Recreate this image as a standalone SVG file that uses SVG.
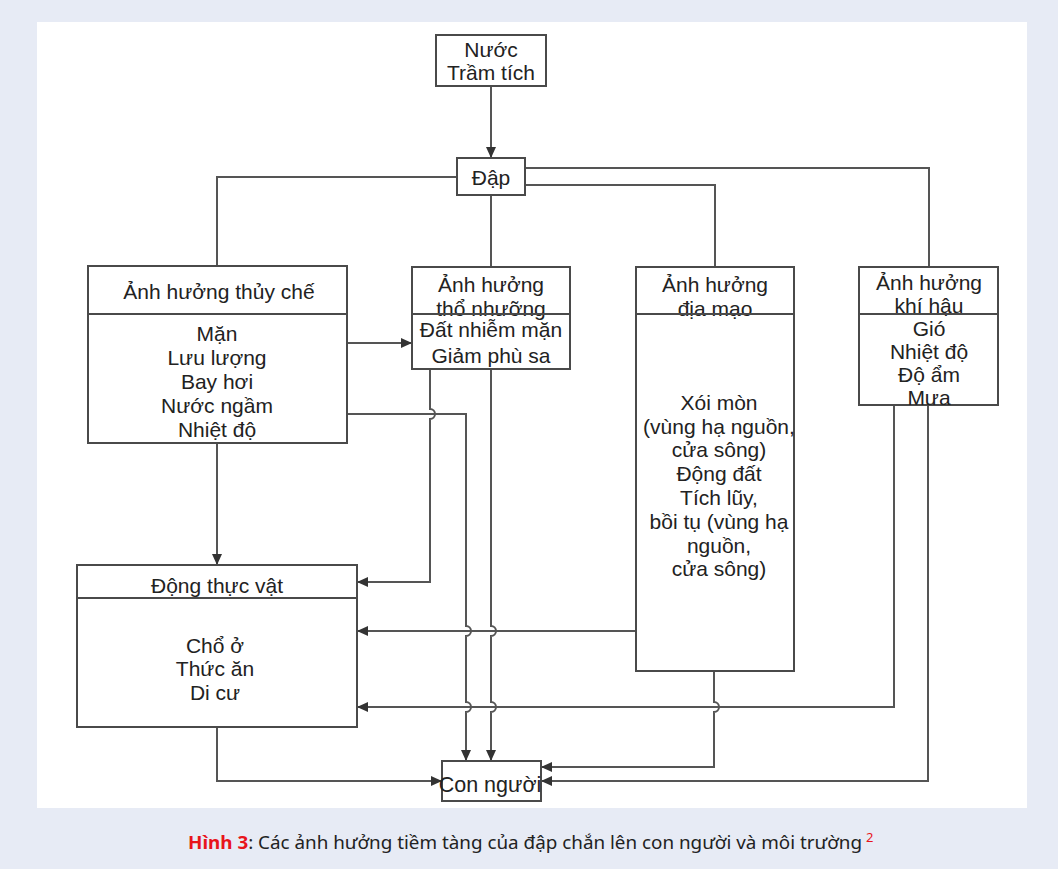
<svg xmlns="http://www.w3.org/2000/svg" width="1058" height="869" viewBox="0 0 1058 869">
<style>
.box{fill:#fff;stroke:#4a4a4a;stroke-width:2}
.div{stroke:#4a4a4a;stroke-width:2}
.t{font-family:"Liberation Sans",Arial,sans-serif;font-size:21px;fill:#222;text-anchor:middle}
.c{fill:none;stroke:#555;stroke-width:2}
.cap{font-family:"Noto Sans","Open Sans",sans-serif;font-size:18px;fill:#222}
.red{fill:#e8141b}
</style>
<defs>
<marker id="ar" markerUnits="userSpaceOnUse" markerWidth="12" markerHeight="10" refX="11" refY="5" orient="auto">
<path d="M0,0 L11,5 L0,10 Z" fill="#333"/>
</marker>
</defs>
<rect x="0" y="0" width="1058" height="869" fill="#e7ebf5"/>
<rect x="37" y="22" width="990" height="786" fill="#fff"/>

<g id="connectors" class="c">
<path d="M491,86 V158" marker-end="url(#ar)"/>
<path d="M457,177 H217 V266"/>
<path d="M491,195 V267"/>
<path d="M525,168 H929 V267"/>
<path d="M525,185 H715 V267"/>
<path d="M347,343 H412" marker-end="url(#ar)"/>
<path d="M347,414 H466 V626 A5,5 0 0 1 466,636 V702 A5,5 0 0 1 466,712 V761" marker-end="url(#ar)"/>
<path d="M430,369 V409 A5,5 0 0 1 430,419 V582 H357" marker-end="url(#ar)"/>
<path d="M491,369 V626 A5,5 0 0 1 491,636 V702 A5,5 0 0 1 491,712 V761" marker-end="url(#ar)"/>
<path d="M217,443 V565" marker-end="url(#ar)"/>
<path d="M636,631 H357" marker-end="url(#ar)"/>
<path d="M894,405 V707 H357" marker-end="url(#ar)"/>
<path d="M714,671 V702 A5,5 0 0 1 714,712 V767 H541" marker-end="url(#ar)"/>
<path d="M928,405 V781 H541" marker-end="url(#ar)"/>
<path d="M217,727 V781 H442" marker-end="url(#ar)"/>
</g>

<g id="nuoc">
<rect class="box" x="436" y="35" width="110" height="51"/>
<text class="t" x="491" y="57">Nước</text>
<text class="t" x="491" y="80">Trầm tích</text>
</g>

<g id="dap">
<rect class="box" x="457" y="158" width="68" height="37"/>
<text class="t" x="491" y="185">Đập</text>
</g>

<g id="thuyche">
<rect class="box" x="88" y="266" width="259" height="177"/>
<line class="div" x1="88" y1="314" x2="347" y2="314"/>
<text class="t" x="219" y="299">Ảnh hưởng thủy chế</text>
<text class="t" x="217" y="341">Mặn</text>
<text class="t" x="217" y="365">Lưu lượng</text>
<text class="t" x="217" y="389">Bay hơi</text>
<text class="t" x="217" y="413">Nước ngầm</text>
<text class="t" x="217" y="437">Nhiệt độ</text>
</g>

<g id="thonhuong">
<rect class="box" x="412" y="267" width="158" height="102"/>
<text class="t" x="491" y="292">Ảnh hưởng</text>
<text class="t" x="491" y="316">thổ nhưỡng</text>
<line class="div" x1="412" y1="314" x2="570" y2="314"/>
<text class="t" x="491" y="337">Đất nhiễm mặn</text>
<text class="t" x="491" y="363">Giảm phù sa</text>
</g>

<g id="diamao">
<rect class="box" x="636" y="267" width="158" height="404"/>
<text class="t" x="715" y="292">Ảnh hưởng</text>
<text class="t" x="715" y="316">địa mạo</text>
<line class="div" x1="636" y1="314" x2="794" y2="314"/>
<text class="t" x="719" y="410">Xói mòn</text>
<text class="t" x="719" y="434">(vùng hạ nguồn,</text>
<text class="t" x="719" y="457">cửa sông)</text>
<text class="t" x="719" y="481">Động đất</text>
<text class="t" x="719" y="505">Tích lũy,</text>
<text class="t" x="719" y="529">bồi tụ (vùng hạ</text>
<text class="t" x="719" y="553">nguồn,</text>
<text class="t" x="719" y="576">cửa sông)</text>
</g>

<g id="khihau">
<rect class="box" x="859" y="267" width="139" height="138"/>
<text class="t" x="929" y="290">Ảnh hưởng</text>
<text class="t" x="929" y="313">khí hậu</text>
<line class="div" x1="859" y1="314" x2="998" y2="314"/>
<text class="t" x="929" y="336">Gió</text>
<text class="t" x="929" y="359">Nhiệt độ</text>
<text class="t" x="929" y="382">Độ ẩm</text>
<text class="t" x="929" y="405">Mưa</text>
</g>

<g id="dongthucvat">
<rect class="box" x="77" y="565" width="280" height="162"/>
<line class="div" x1="77" y1="598" x2="357" y2="598"/>
<text class="t" x="217" y="593">Động thực vật</text>
<text class="t" x="215" y="653">Chổ ở</text>
<text class="t" x="215" y="676">Thức ăn</text>
<text class="t" x="215" y="700">Di cư</text>
</g>

<g id="connguoi">
<rect class="box" x="442" y="761" width="99" height="40"/>
<text class="t" x="490" y="792" style="font-size:21.5px">Con người</text>
</g>

<g id="caption">
<text class="cap" x="188" y="849" textLength="674" lengthAdjust="spacingAndGlyphs"><tspan class="red" font-weight="bold">Hình 3</tspan>: Các ảnh hưởng tiềm tàng của đập chắn lên con người và môi trường</text>
<text class="cap red" x="866" y="842" style="font-size:13px">2</text>
</g>
</svg>
